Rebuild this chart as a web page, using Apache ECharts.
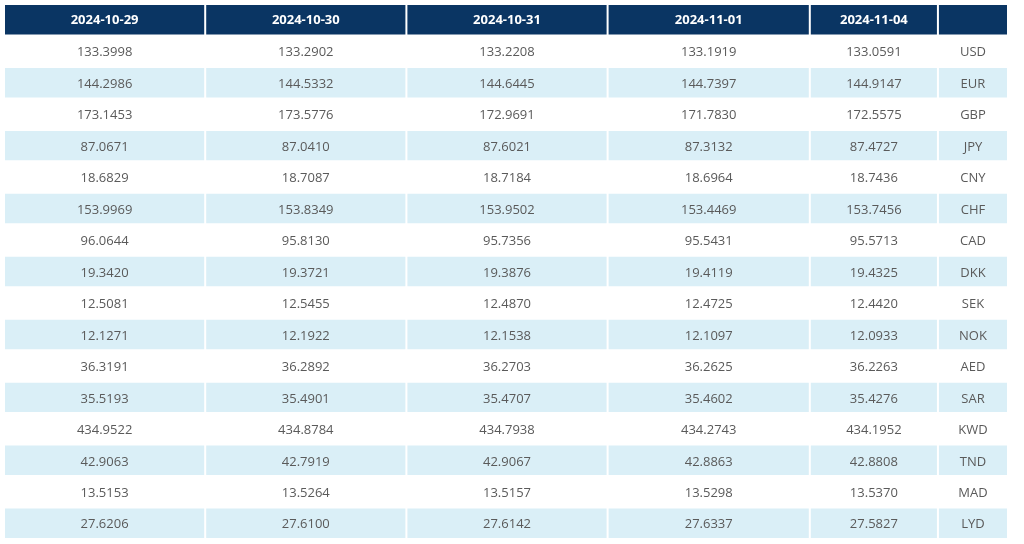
<!DOCTYPE html>
<html>
<head>
<meta charset="utf-8">
<script src="https://cdn.jsdelivr.net/npm/echarts@6/dist/echarts.min.js"></script>
<style>
html,body{margin:0;padding:0;background:#fff;}
#chart{width:1024px;height:544px;}
</style>
</head>
<body>
<div id="chart"></div>
<script>
// ---- data ----
var dates = ['2024-10-29', '2024-10-30', '2024-10-31', '2024-11-01', '2024-11-04'];
var currencies = ['USD','EUR','GBP','JPY','CNY','CHF','CAD','DKK','SEK','NOK','AED','SAR','KWD','TND','MAD','LYD'];
var rates_2024_10_29 = [133.3998,144.2986,173.1453,87.0671,18.6829,153.9969,96.0644,19.3420,12.5081,12.1271,36.3191,35.5193,434.9522,42.9063,13.5153,27.6206];
var rates_2024_10_30 = [133.2902,144.5332,173.5776,87.0410,18.7087,153.8349,95.8130,19.3721,12.5455,12.1922,36.2892,35.4901,434.8784,42.7919,13.5264,27.6100];
var rates_2024_10_31 = [133.2208,144.6445,172.9691,87.6021,18.7184,153.9502,95.7356,19.3876,12.4870,12.1538,36.2703,35.4707,434.7938,42.9067,13.5157,27.6142];
var rates_2024_11_01 = [133.1919,144.7397,171.7830,87.3132,18.6964,153.4469,95.5431,19.4119,12.4725,12.1097,36.2625,35.4602,434.2743,42.8863,13.5298,27.6337];
var rates_2024_11_04 = [133.0591,144.9147,172.5575,87.4727,18.7436,153.7456,95.5713,19.4325,12.4420,12.0933,36.2263,35.4276,434.1952,42.8808,13.5370,27.5827];

// ---- layout / style ----
var series = [rates_2024_10_29, rates_2024_10_30, rates_2024_10_31, rates_2024_11_01, rates_2024_11_04];
var colEdges = [0, 201, 402, 603, 805, 933, 1003];
var headerBg = '#0a3563';
var stripeBg = '#daeff7';
var textColor = '#5a5a5a';
var font = '"Open Sans", "Noto Sans", sans-serif';

var rowLabels = ['header'].concat(currencies);
var cells = [];
// header
for (var c = 0; c < 6; c++) {
  cells.push([c, 0, c < dates.length ? dates[c] : '', 1]);
}
for (var r = 0; r < currencies.length; r++) {
  for (var c2 = 0; c2 < series.length; c2++) {
    cells.push([c2, r + 1, series[c2][r].toFixed(4), 0]);
  }
  cells.push([5, r + 1, currencies[r], 0]);
}

function renderItem(params, api) {
  var col = api.value(0);
  var row = api.value(1);
  var isHeader = api.value(3) === 1;
  var text = cells[params.dataIndex][2];
  var p0 = api.coord([colEdges[col], row]);
  var p1 = api.coord([colEdges[col + 1], row]);
  var h = api.size([0, 1])[1];
  var x = p0[0], w = p1[0] - p0[0] - 2;
  var y = p0[1] - h / 2, hh = h - 2;
  var fill = isHeader ? headerBg : (row % 2 === 0 ? stripeBg : '#ffffff');
  return {
    type: 'group',
    children: [
      { type: 'rect', shape: { x: x, y: y, width: w, height: hh }, style: { fill: fill } },
      { type: 'text', style: {
          text: text, x: x + w / 2, y: y + hh / 2 + (isHeader ? 0.5 : 1.5),
          align: 'center', verticalAlign: 'middle',
          fill: isHeader ? '#ffffff' : textColor,
          fontSize: 13, fontWeight: isHeader ? 'bold' : 'normal', fontFamily: font
        } }
    ]
  };
}

var chart = echarts.init(document.getElementById('chart'));
chart.setOption({
  animation: false,
  grid: { left: 5, right: 15, top: 5, bottom: 4 },
  xAxis: { type: 'value', min: 0, max: colEdges[colEdges.length - 1], show: false },
  yAxis: { type: 'category', data: rowLabels, inverse: true, show: false },
  series: [{
    type: 'custom',
    renderItem: renderItem,
    encode: { x: 0, y: 1 },
    data: cells.map(function (d) { return [d[0], d[1], 0, d[3]]; })
  }]
});
</script>
</body>
</html>
